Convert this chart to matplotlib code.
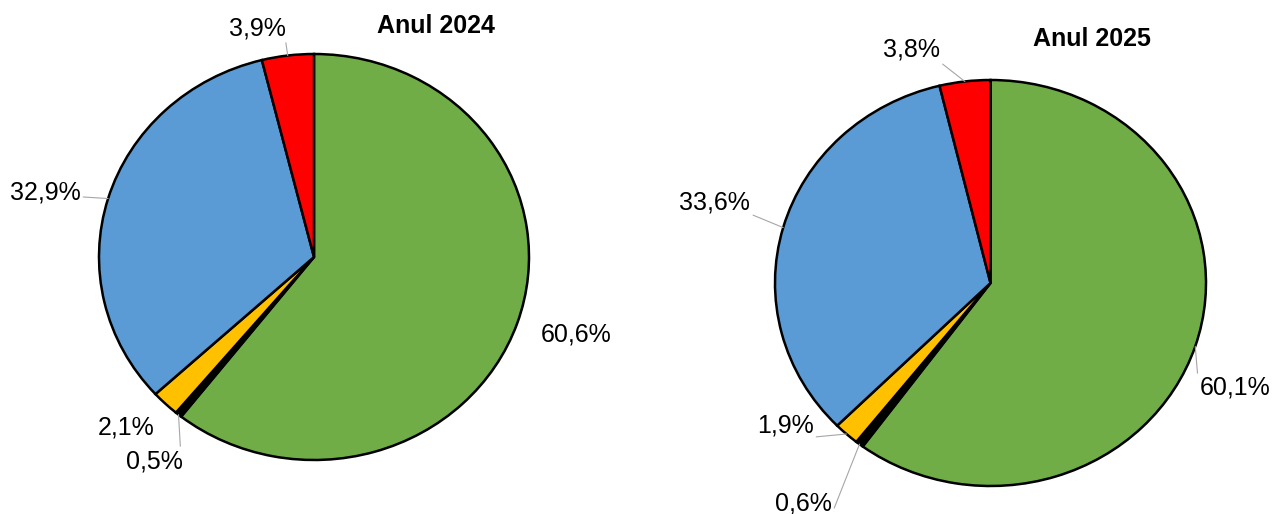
import matplotlib.pyplot as plt
import numpy as np

plt.rcParams['font.family'] = ['Liberation Sans', 'DejaVu Sans']

colors = ['#70AD47', '#000000', '#FFC000', '#5B9BD5', '#FF0000']

share_2024 = [60.6, 0.5, 2.1, 32.9, 3.9]
share_2025 = [60.1, 0.6, 1.9, 33.6, 3.8]
labels_2024 = ['60,6%', '0,5%', '2,1%', '32,9%', '3,9%']
labels_2025 = ['60,1%', '0,6%', '1,9%', '33,6%', '3,8%']

# label positions in pie-radius units, leader line anchor on the label (None = no leader)
pos_2024 = [(1.219, -0.384), (-0.74, -1.005), (-0.874, -0.842), (-1.251, 0.32), (-0.265, 1.128)]
rel_2024 = [None, (0.95, 1.0), None, (1.0, 0.3), (1.0, 0.0)]
pos_2025 = [(1.135, -0.517), (-0.87, -1.084), (-0.953, -0.70), (-1.279, 0.399), (-0.367, 1.148)]
rel_2025 = [(0.0, 0.0), (1.0, 0.0), (1.0, 0.0), (1.0, 0.0), (1.0, 0.0)]


def draw_pie(rect, values, labels, positions, relpos, title, title_xy):
    ax = fig.add_axes(rect)
    wedges, _ = ax.pie(values, colors=colors, startangle=90, counterclock=False,
                       wedgeprops=dict(edgecolor='black', linewidth=1.8))
    ax.set_aspect('auto')
    ax.set_xlim(-1, 1)
    ax.set_ylim(-1, 1)
    ax.axis('off')
    for w, lab, p, rp in zip(wedges, labels, positions, relpos):
        mid = np.deg2rad((w.theta1 + w.theta2) / 2)
        edge = (np.cos(mid), np.sin(mid))
        if rp is None:
            ax.annotate(lab, xy=edge, xytext=p, ha='center', va='center',
                        fontsize=18, annotation_clip=False)
        else:
            ax.annotate(lab, xy=edge, xytext=p, ha='center', va='center',
                        fontsize=18, annotation_clip=False,
                        arrowprops=dict(arrowstyle='-', color='#A6A6A6', lw=0.8,
                                        relpos=rp, shrinkA=0, shrinkB=0))
    ax.text(title_xy[0], title_xy[1], title, ha='center', va='center',
            fontsize=18, fontweight='bold')


fig = plt.figure(figsize=(12.72, 5.14), dpi=100)
draw_pie([99 / 1272, 54 / 514, 430 / 1272, 406 / 514], share_2024, labels_2024,
         pos_2024, rel_2024, 'Anul 2024', (0.567, 1.138))
draw_pie([775 / 1272, 28 / 514, 431 / 1272, 406 / 514], share_2025, labels_2025,
         pos_2025, rel_2025, 'Anul 2025', (0.47, 1.202))

fig.savefig('out.png', dpi=100)
